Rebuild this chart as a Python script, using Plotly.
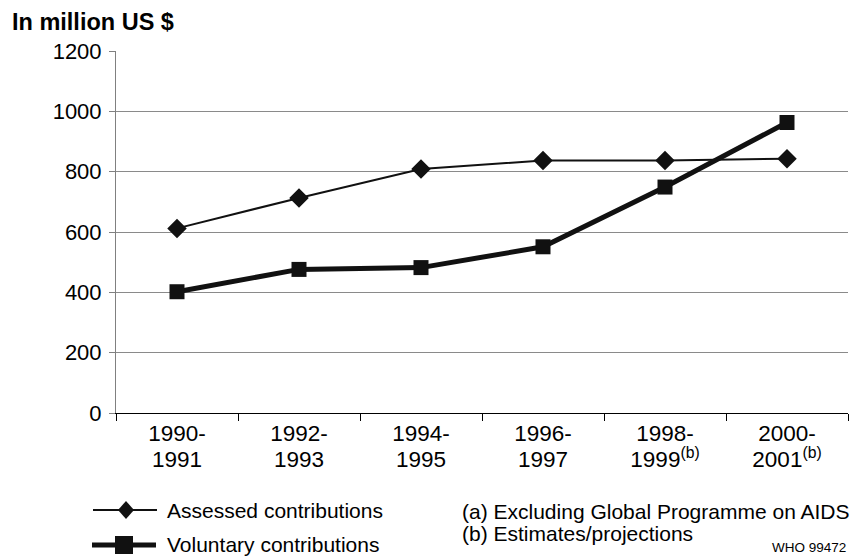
import plotly.graph_objects as go

# ---- data ----
periods = ["1990-1991", "1992-1993", "1994-1995", "1996-1997", "1998-1999", "2000-2001"]
tick_line1 = ["1990-", "1992-", "1994-", "1996-", "1998-", "2000-"]
tick_line2 = ["1991", "1993", "1995", "1997", "1999<sup>(b)</sup>", "2001<sup>(b)</sup>"]
assessed = [612, 713, 809, 837, 837, 843]
voluntary = [402, 476, 482, 551, 749, 963]
y_ticks = [0, 200, 400, 600, 800, 1000, 1200]
series_names = ["Assessed contributions", "Voluntary contributions"]
footnotes = ["(a) Excluding Global Programme on AIDS", "(b) Estimates/projections"]
source_note = "WHO 99472"
y_title = "In million US $"

FONT = "Liberation Sans, Arial, sans-serif"
W, H = 853, 556
L, R, T, B = 116, 5, 51, 143
PW, PH = W - L - R, H - T - B


def px(x):
    return (x - L) / PW


def py(y):
    return (H - B - y) / PH


INK = "#111111"
fig = go.Figure()
fig.add_trace(go.Scatter(
    x=periods, y=assessed, mode="lines+markers", name=series_names[0],
    line=dict(color=INK, width=2), marker=dict(symbol="diamond", size=15, color=INK),
    cliponaxis=False, showlegend=False))
fig.add_trace(go.Scatter(
    x=periods, y=voluntary, mode="lines+markers", name=series_names[1],
    line=dict(color=INK, width=5), marker=dict(symbol="square", size=15, color=INK),
    cliponaxis=False, showlegend=False))
# helper trace so the second-line label axis renders
fig.add_trace(go.Scatter(
    x=periods, y=assessed, xaxis="x2", mode="markers", marker=dict(opacity=0),
    hoverinfo="skip", showlegend=False))

fig.update_layout(
    width=W, height=H,
    margin=dict(l=L, r=R, t=T, b=B, pad=0),
    paper_bgcolor="white", plot_bgcolor="white",
    font=dict(family=FONT, size=22, color="black"),
    xaxis=dict(
        type="category", categoryorder="array", categoryarray=periods,
        range=[-0.5, len(periods) - 0.5],
        tickmode="array", tickvals=periods, ticktext=tick_line1,
        tickson="boundaries", ticks="outside", ticklen=7, tickcolor="black", tickwidth=1,
        showline=True, linecolor="black", linewidth=1,
        showgrid=False, zeroline=False,
        tickfont=dict(size=22.5, family=FONT, color="black"),
    ),
    xaxis2=dict(
        type="category", categoryorder="array", categoryarray=periods,
        range=[-0.5, len(periods) - 0.5],
        overlaying="x", anchor="y", side="bottom",
        tickmode="array", tickvals=periods, ticktext=tick_line2,
        ticks="outside", ticklen=7, tickcolor="rgba(0,0,0,0)",
        ticklabelstandoff=19,
        showline=False, showgrid=False, zeroline=False,
        tickfont=dict(size=22.5, family=FONT, color="black"),
    ),
    yaxis=dict(
        range=[0, 1200], tickmode="array", tickvals=y_ticks,
        ticks="outside", ticklen=6, tickcolor="#808080",
        ticklabelstandoff=3,
        showline=True, linecolor="#808080", linewidth=1,
        showgrid=True, gridcolor="#8a8a8a", gridwidth=1, zeroline=False,
        tickfont=dict(size=22, family=FONT, color="black"),
    ),
)

annotations = [
    dict(text="<b>" + y_title + "</b>", x=px(10), y=py(22), xref="paper", yref="paper",
         xanchor="left", yanchor="middle", showarrow=False,
         font=dict(size=23.5, family=FONT, color="black")),
    dict(text=series_names[0], x=px(165), y=py(510), xref="paper", yref="paper",
         xanchor="left", yanchor="middle", showarrow=False,
         font=dict(size=21, family=FONT, color="black")),
    dict(text=series_names[1], x=px(165), y=py(544), xref="paper", yref="paper",
         xanchor="left", yanchor="middle", showarrow=False,
         font=dict(size=21, family=FONT, color="black")),
    dict(text=footnotes[0], x=px(460), y=py(511), xref="paper", yref="paper",
         xanchor="left", yanchor="middle", showarrow=False,
         font=dict(size=21, family=FONT, color="black")),
    dict(text=footnotes[1], x=px(460), y=py(533), xref="paper", yref="paper",
         xanchor="left", yanchor="middle", showarrow=False,
         font=dict(size=21, family=FONT, color="black")),
    dict(text=source_note, x=px(848), y=py(547), xref="paper", yref="paper",
         xanchor="right", yanchor="middle", showarrow=False,
         font=dict(size=13.5, family=FONT, color="black")),
]
fig.update_layout(annotations=annotations)

# custom legend samples
shapes = []
# assessed: thin line + diamond
shapes.append(dict(type="line", xref="paper", yref="paper",
                   x0=px(93), x1=px(157), y0=py(510), y1=py(510),
                   line=dict(color=INK, width=2)))
cx, cy, hw, hh = 126, 510, 8, 9
shapes.append(dict(type="path", xref="paper", yref="paper",
                   path=f"M {px(cx)} {py(cy - hh)} L {px(cx + hw)} {py(cy)} L {px(cx)} {py(cy + hh)} L {px(cx - hw)} {py(cy)} Z",
                   fillcolor=INK, line=dict(color=INK, width=0)))
# voluntary: thick line + square
shapes.append(dict(type="line", xref="paper", yref="paper",
                   x0=px(92), x1=px(156), y0=py(545), y1=py(545),
                   line=dict(color=INK, width=5)))
sx, sy, hs = 124, 545, 9
shapes.append(dict(type="rect", xref="paper", yref="paper",
                   x0=px(sx - hs), x1=px(sx + hs), y0=py(sy + hs), y1=py(sy - hs),
                   fillcolor=INK, line=dict(color=INK, width=0)))
fig.update_layout(shapes=shapes)

fig.write_html("out.html")
